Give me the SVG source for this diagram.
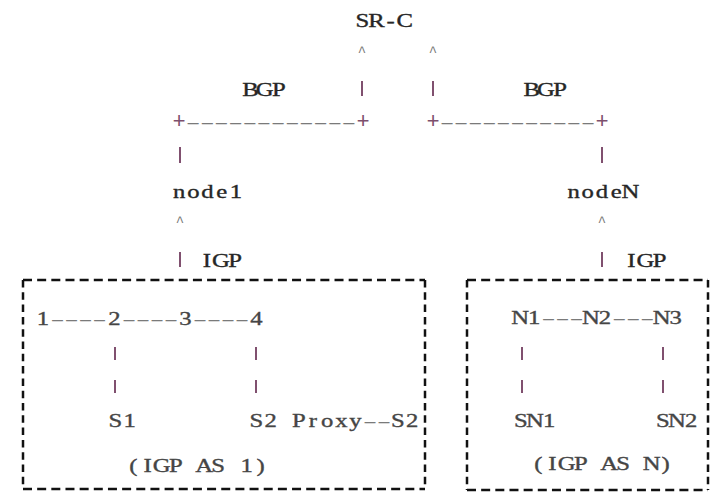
<svg xmlns="http://www.w3.org/2000/svg" width="712" height="493" viewBox="0 0 712 493">
  <style>
    text { font-family: "Liberation Serif", "Times New Roman", serif; font-size: 19px; fill: #262626; text-anchor: middle; white-space: pre; stroke: #262626; stroke-width: 0.35; }
    .dim { fill: #454545; stroke: #454545; }
    .run { text-anchor: start; stroke: none; }
    .caret { font-family: "Liberation Mono", monospace; font-size: 14px; fill: #777; stroke: none; }
    .plus { font-family: "Liberation Mono", monospace; font-size: 22px; fill: #7d4f6d; stroke: none; }
    .rule { fill: #7a7a7a; }
    .pipe { stroke: #80506f; stroke-width: 2; }
    .edge-h { stroke: #111; stroke-width: 2.5; stroke-dasharray: 9 5.16; }
    .edge-v { stroke: #111; stroke-width: 2.5; stroke-dasharray: 7.5 4.8; }
  </style>

  <!-- labels use a widened serif on a 14.16px character grid (x values are pre-divided by 1.3) -->
  <g id="sr-c">
    <text transform="scale(1.3 1)" x="278.69 289.54 300.46 311.38" y="27">SR-C</text>
  </g>

  <g id="bgp-left">
    <text transform="scale(1.3 1)" x="192.69 203.62 214.54" y="96">BGP</text>
  </g>
  <g id="bgp-right">
    <text transform="scale(1.3 1)" x="409.08 420 430.92" y="96">BGP</text>
  </g>

  <g id="node1">
    <text transform="scale(1.3 1)" x="137.85 148.77 159.62 170.54 181.46" y="198">node1</text>
  </g>
  <g id="nodeN">
    <text transform="scale(1.3 1)" x="441.31 452.15 463.08 474 484.85" y="198">nodeN</text>
  </g>

  <g id="igp-left">
    <text transform="scale(1.3 1)" x="159.08 170 180.92" y="267">IGP</text>
  </g>
  <g id="igp-right">
    <text transform="scale(1.3 1)" x="485.62 496.54 507.46" y="267">IGP</text>
  </g>

  <!-- IGP AS 1 -->
  <g id="as1">
    <line class="edge-h" x1="23" y1="280" x2="425" y2="280"/>
    <line class="edge-h" x1="23" y1="489" x2="425" y2="489"/>
    <line class="edge-v" x1="23" y1="280" x2="23" y2="489"/>
    <line class="edge-v" x1="425" y1="280" x2="425" y2="489"/>
    <text class="dim" transform="scale(1.3 1)" x="33.08" y="325">1</text>
    <text class="rule run" x="50.5" y="325" textLength="56" lengthAdjust="spacingAndGlyphs">----</text>
    <text class="dim" transform="scale(1.3 1)" x="88.08" y="325">2</text>
    <text class="rule run" x="122" y="325" textLength="56" lengthAdjust="spacingAndGlyphs">----</text>
    <text class="dim" transform="scale(1.3 1)" x="142.69" y="325">3</text>
    <text class="rule run" x="193" y="325" textLength="56" lengthAdjust="spacingAndGlyphs">----</text>
    <text class="dim" transform="scale(1.3 1)" x="197.31" y="325">4</text>
    <text class="dim" transform="scale(1.3 1)" x="88.77 99.69" y="427">S1</text>
    <text class="dim" transform="scale(1.3 1)" x="197.23 208.15" y="427">S2</text>
    <text class="dim" transform="scale(1.3 1)" x="229.92 240.77 251.69 262.62 273.46" y="427">Proxy</text>
    <text class="rule run" x="363" y="427" textLength="28" lengthAdjust="spacingAndGlyphs">--</text>
    <text class="dim" transform="scale(1.3 1)" x="306.15 317.08" y="427">S2</text>
    <text class="dim" transform="scale(1.3 1)" x="102.54 113.46 124.31 135.23 146.15 157 167.85 178.77 189.69 200.54" y="472">(IGP AS 1)</text>
  </g>

  <!-- IGP AS N -->
  <g id="asN">
    <line class="edge-h" x1="467" y1="280" x2="708" y2="280"/>
    <line class="edge-h" x1="467" y1="490" x2="708" y2="490"/>
    <line class="edge-v" x1="467" y1="280" x2="467" y2="490"/>
    <line class="edge-v" x1="708" y1="280" x2="708" y2="490"/>
    <text class="dim" transform="scale(1.3 1)" x="400.08 410.92" y="324">N1</text>
    <text class="rule run" x="541.5" y="324" textLength="42" lengthAdjust="spacingAndGlyphs">---</text>
    <text class="dim" transform="scale(1.3 1)" x="454.54 465.38" y="324">N2</text>
    <text class="rule run" x="612.3" y="324" textLength="42" lengthAdjust="spacingAndGlyphs">---</text>
    <text class="dim" transform="scale(1.3 1)" x="508.92 519.85" y="324">N3</text>
    <text class="dim" transform="scale(1.3 1)" x="400.62 411.54 422.46" y="427">SN1</text>
    <text class="dim" transform="scale(1.3 1)" x="509.85 520.77 531.69" y="427">SN2</text>
    <text class="dim" transform="scale(1.3 1)" x="414.08 424.92 435.85 446.77 457.62 468.54 479.38 490.31 501.23 512.08" y="470">(IGP AS N)</text>
  </g>

  <!-- connectors -->
  <g id="connectors">
    <text class="caret" x="362" y="56">^</text>
    <text class="caret" x="433" y="56">^</text>
    <line class="pipe" x1="362" y1="81" x2="362" y2="96"/>
    <line class="pipe" x1="433" y1="81" x2="433" y2="96"/>

    <text class="plus" x="179" y="128">+</text>
    <text class="rule run" x="186" y="128" textLength="170" lengthAdjust="spacingAndGlyphs">------------</text>
    <text class="plus" x="363" y="128">+</text>
    <text class="plus" x="433" y="128">+</text>
    <text class="rule run" x="440" y="128" textLength="155" lengthAdjust="spacingAndGlyphs">-----------</text>
    <text class="plus" x="602" y="128">+</text>

    <line class="pipe" x1="180" y1="147" x2="180" y2="163"/>
    <line class="pipe" x1="602" y1="147" x2="602" y2="163"/>
    <text class="caret" x="180" y="226">^</text>
    <text class="caret" x="602" y="226">^</text>
    <line class="pipe" x1="180" y1="252" x2="180" y2="267"/>
    <line class="pipe" x1="602" y1="252" x2="602" y2="267"/>

    <line class="pipe" x1="115" y1="347" x2="115" y2="360"/>
    <line class="pipe" x1="115" y1="380" x2="115" y2="393"/>
    <line class="pipe" x1="256" y1="347" x2="256" y2="360"/>
    <line class="pipe" x1="256" y1="380" x2="256" y2="393"/>
    <line class="pipe" x1="522" y1="347" x2="522" y2="360"/>
    <line class="pipe" x1="522" y1="380" x2="522" y2="393"/>
    <line class="pipe" x1="663" y1="347" x2="663" y2="360"/>
    <line class="pipe" x1="663" y1="380" x2="663" y2="393"/>
  </g>
</svg>
